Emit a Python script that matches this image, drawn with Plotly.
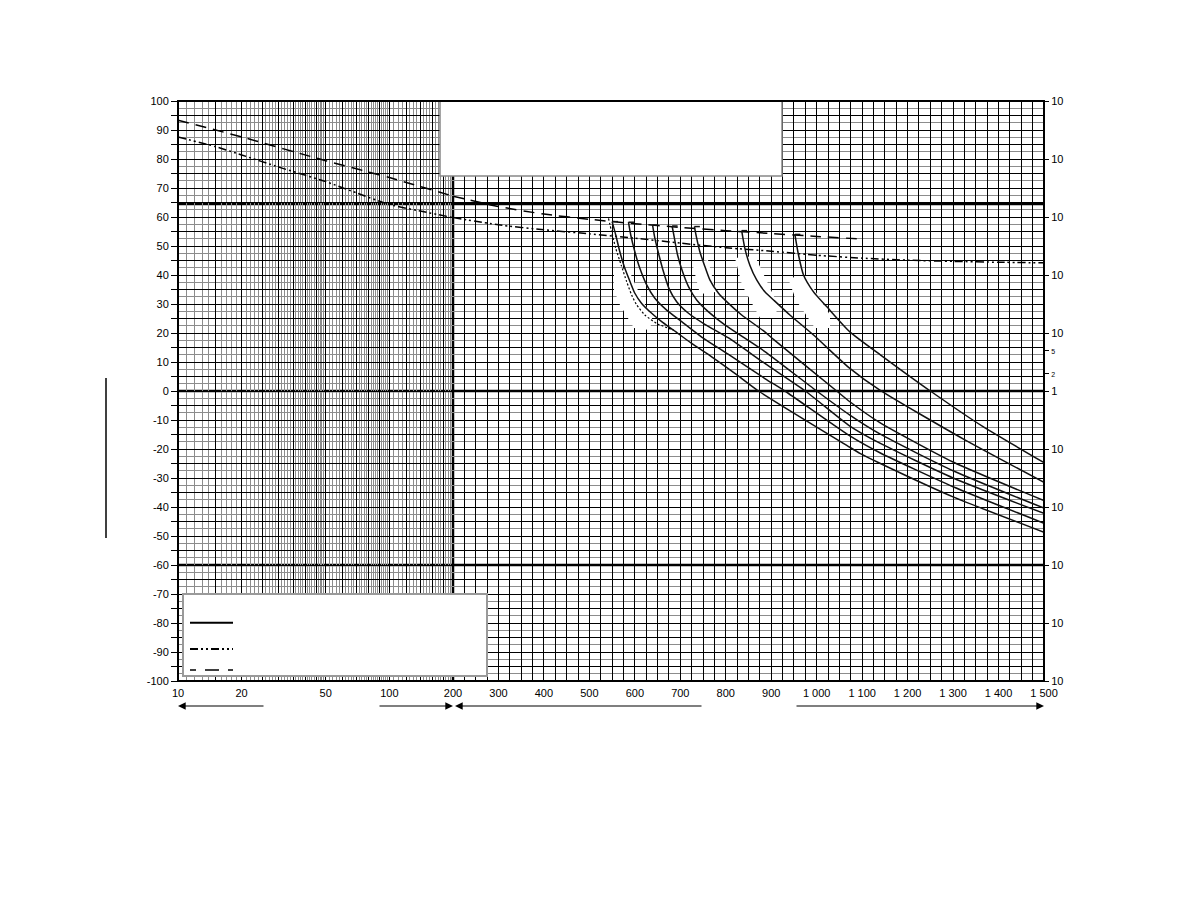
import plotly.graph_objects as go

# ---------------- data ----------------
# dashed curve (spans log part 10-200 and linear part 200-1100)
dashed_x = [10, 20, 50, 100, 200, 300, 400, 500, 600, 700, 800, 900, 1000, 1100]
dashed_y = [93.4, 87.6, 79.4, 73.6, 67.2, 63.6, 61.0, 59.2, 57.7, 56.4, 55.3, 54.3, 53.3, 52.4]

# dash-dot curve (10-1500)
dashdot_x = [10, 15, 20, 30, 50, 70, 100, 150, 200, 300, 400, 500, 600, 700, 800, 900,
             1000, 1100, 1200, 1300, 1400, 1500]
dashdot_y = [87.6, 84.3, 81.4, 77.2, 72.2, 68.3, 64.3, 61.6, 59.8, 57.3, 55.6, 54.2, 52.7, 51.0,
             49.4, 48.2, 46.8, 45.8, 45.1, 44.7, 44.4, 44.2]

# dotted curve (next to the first solid curve)
dotted_x = [542, 549, 558, 570, 582, 593, 604, 622, 648, 685]
dotted_y = [59.5, 54.9, 49.2, 43.4, 37.7, 33.1, 29.7, 26.2, 23.3, 21.0]

# solid family (first point = right end of the small top tick)
c1_x = [563, 550, 558, 567, 578, 591, 600, 615, 637, 659, 685, 725, 769, 820, 872, 1073, 1095, 1139, 1300, 1500]
c1_y = [58.4, 58.4, 53.8, 48.0, 42.3, 37.1, 33.7, 30.2, 26.8, 23.9, 21.0, 16.4, 11.8, 6.1, 0.0, -19.4, -21.5, -24.9, -36.5, -48.7]
c2_x = [598, 586, 591, 600, 611, 626, 644, 670, 703, 747, 806, 886, 930, 1073, 1139, 1300, 1500]
c2_y = [58.2, 58.2, 53.8, 48.0, 42.3, 36.6, 32.0, 27.9, 23.9, 18.6, 12.6, 4.3, 0.0, -15.5, -21.3, -33.0, -45.6]
c3_x = [651, 639, 644, 653, 663, 675, 692, 718, 754, 806, 886, 975, 1073, 1139, 1300, 1500]
c3_y = [57.2, 57.2, 52.7, 46.9, 41.1, 35.4, 30.8, 26.8, 23.0, 18.3, 9.5, 0.0, -12.1, -18.0, -30.0, -42.2]
c4_x = [694, 682, 687, 694, 705, 718, 736, 762, 798, 842, 886, 1000, 1073, 1139, 1300, 1500]
c4_y = [56.9, 56.9, 52.7, 46.9, 41.1, 36.0, 31.4, 27.3, 22.8, 18.2, 13.6, 0.0, -8.3, -14.8, -27.5, -40.4]
c5_x = [743, 731, 736, 743, 753, 765, 784, 806, 835, 886, 905, 1044, 1073, 1139, 1300, 1500]
c5_y = [56.7, 56.7, 52.7, 48.0, 43.4, 38.3, 33.7, 30.2, 26.2, 20.4, 17.8, 0.0, -3.7, -10.9, -24.5, -37.8]
c6_x = [847, 835, 842, 853, 868, 886, 905, 941, 993, 1073, 1139, 1322, 1500]
c6_y = [55.3, 55.3, 49.2, 43.4, 38.3, 34.2, 31.4, 26.2, 19.3, 7.8, 0.3, -16.5, -31.5]
c7_x = [964, 952, 960, 971, 993, 1022, 1073, 1146, 1250, 1366, 1500]
c7_y = [54.0, 54.0, 46.9, 40.0, 34.2, 29.1, 20.4, 11.8, 0.0, -12.3, -24.7]

# axis ticks / labels
log_major = [10, 15, 20, 25, 30, 35, 40, 45, 50, 60, 70, 80, 90, 100, 120, 140, 160, 180, 200]
log_labels = {10: "10", 20: "20", 50: "50", 100: "100", 200: "200"}
log_minor = ([v for v in range(11, 50) if v not in log_major]
             + [v for v in range(52, 100, 2) if v not in log_major]
             + [v for v in range(105, 200, 5) if v not in log_major])
lin_ticks = list(range(225, 1501, 25))
lin_labels = {300: "300", 400: "400", 500: "500", 600: "600", 700: "700", 800: "800", 900: "900",
              1000: "1 000", 1100: "1 100", 1200: "1 200", 1300: "1 300", 1400: "1 400", 1500: "1 500"}
y_ticks = list(range(-100, 101, 5))
right_ticks = [-100, -80, -60, -40, -20, 0, 6, 14, 20, 40, 60, 80, 100]
right_labels = ["10", "10", "10", "10", "10", "1",
                '<span style="font-size:7px">2</span>', '<span style="font-size:7px">5</span>',
                "10", "10", "10", "10", "10"]
heavy_y = [0, -60, 64.5]

# ---------------- layout geometry ----------------
# the page body adds an 8 px margin, so the figure is 16 px smaller than the window
W, H = 1172, 902
PL, PT, PW, PH = 178, 101, 866, 580          # plot area in screenshot pixels
ML, MT = PL - 8, PT - 8
MR = W - ML - PW
MB = H - MT - PH
SPLIT = 275 / PW
X2_PX_PER_UNIT = (PW - 275) / 1300.0
Y_PX_PER_UNIT = PH / 200.0


def pxx(x):
    return (x - PL) / PW


def pxy(y):
    return (PT + PH - y) / PH


def px_to_x2(x):
    return 200 + (x - PL - 275) / X2_PX_PER_UNIT


def px_to_y(y):
    return (PT + PH / 2 - y) / Y_PX_PER_UNIT


FONT = dict(family="Arial, Liberation Sans, sans-serif", size=11, color="#000")
BLACK = "#000000"
GRAY = "#8c8c8c"
DASH = "11px,7px"
DASHDOT = "8px,3px,2px,3px,2px,3px"

fig = go.Figure()


def add_split(xs, ys, dash):
    lx = [a for a in xs if a <= 200]
    ly = [b for a, b in zip(xs, ys) if a <= 200]
    rx = [a for a in xs if a >= 200]
    ry = [b for a, b in zip(xs, ys) if a >= 200]
    line = dict(color=BLACK, width=1.5, dash=dash, shape="spline", smoothing=0.5)
    fig.add_trace(go.Scatter(x=lx, y=ly, xaxis="x", yaxis="y", mode="lines", line=line,
                             showlegend=False, hoverinfo="skip"))
    fig.add_trace(go.Scatter(x=rx, y=ry, xaxis="x2", yaxis="y", mode="lines", line=line,
                             showlegend=False, hoverinfo="skip"))


add_split(dashed_x, dashed_y, DASH)
add_split(dashdot_x, dashdot_y, DASHDOT)

# the dotted curve is drawn against the right-hand axis (same range) so that it exists
fig.add_trace(go.Scatter(x=dotted_x, y=dotted_y, xaxis="x2", yaxis="y2", mode="lines",
                         line=dict(color=BLACK, width=1.2, dash="2px,2px", shape="spline", smoothing=0.6),
                         showlegend=False, hoverinfo="skip"))

for cx, cy in [(c1_x, c1_y), (c2_x, c2_y), (c3_x, c3_y), (c4_x, c4_y),
               (c5_x, c5_y), (c6_x, c6_y), (c7_x, c7_y)]:
    # small horizontal tick at the top of each curve
    fig.add_trace(go.Scatter(x=cx[:2], y=cy[:2], xaxis="x2", yaxis="y", mode="lines",
                             line=dict(color="#111", width=1.5),
                             showlegend=False, hoverinfo="skip"))
    fig.add_trace(go.Scatter(x=cx[1:], y=cy[1:], xaxis="x2", yaxis="y", mode="lines",
                             line=dict(color="#111", width=1.5, shape="spline", smoothing=0.6),
                             showlegend=False, hoverinfo="skip"))

# ---------------- decorative shapes ----------------
shapes = []
# white label erasures (between grid and curves)
blotches = [
    [(614, 270), (628, 268), (640, 295), (652, 318), (650, 330), (634, 328), (620, 305), (614, 290)],
    [(692, 262), (708, 260), (716, 292), (700, 294)],
    [(735, 258), (755, 256), (778, 305), (775, 318), (760, 318), (742, 285)],
    [(788, 278), (806, 276), (830, 315), (830, 328), (815, 328), (796, 300)],
]
for poly in blotches:
    path = "M " + " L ".join(f"{px_to_x2(a):.3f},{px_to_y(b):.3f}" for a, b in poly) + " Z"
    shapes.append(dict(type="path", path=path, xref="x2", yref="y",
                       fillcolor="white", line=dict(width=0), layer="between"))

# heavy horizontal lines
for hy in heavy_y:
    shapes.append(dict(type="line", xref="paper", yref="y", x0=0, x1=1, y0=hy, y1=hy,
                       line=dict(color=BLACK, width=2.5), layer="between"))
# heavy vertical line at 200
shapes.append(dict(type="line", xref="paper", yref="paper", x0=SPLIT, x1=SPLIT, y0=0, y1=1,
                   line=dict(color=BLACK, width=2.5), layer="between"))
# top white box
shapes.append(dict(type="rect", xref="paper", yref="paper", x0=pxx(440), x1=pxx(782),
                   y0=pxy(176), y1=1, fillcolor="white", line=dict(color="#888", width=1.5),
                   layer="above"))
# legend box
shapes.append(dict(type="rect", xref="paper", yref="paper", x0=pxx(183), x1=pxx(487),
                   y0=pxy(676), y1=pxy(594), fillcolor="white", line=dict(color="#9a9a9a", width=2),
                   layer="above"))
# legend samples
for yy, dash, wd in [(622.7, "solid", 2), (649, DASHDOT, 2), (670, "6px,9px,14px,9px", 1.5)]:
    shapes.append(dict(type="line", xref="paper", yref="paper", x0=pxx(190), x1=pxx(233),
                       y0=pxy(yy), y1=pxy(yy), line=dict(color=BLACK, width=wd, dash=dash),
                       layer="above"))
# plot border
shapes.append(dict(type="rect", xref="paper", yref="paper", x0=0, x1=1, y0=0, y1=1,
                   line=dict(color=BLACK, width=2), layer="above"))
# vertical bar left of the y axis
shapes.append(dict(type="line", xref="paper", yref="paper", x0=pxx(106), x1=pxx(106),
                   y0=pxy(538), y1=pxy(378), line=dict(color=BLACK, width=1.5)))

# arrows below the x axis
annotations = []
for head, tail in [(178, 265), (453, 378), (455, 703), (1044, 795)]:
    annotations.append(dict(x=pxx(head), y=pxy(706), xref="paper", yref="paper",
                            ax=tail - head, ay=0, text="", showarrow=True,
                            arrowhead=2, arrowsize=1.4, arrowwidth=1.1, arrowcolor=BLACK,
                            standoff=0))

fig.update_layout(
    width=W, height=H,
    margin=dict(l=ML, r=MR, t=MT, b=MB),
    paper_bgcolor="white", plot_bgcolor="white",
    font=FONT,
    showlegend=False,
    shapes=shapes,
    annotations=annotations,
    xaxis=dict(type="log", domain=[0, SPLIT], range=[1, 2.30104], anchor="y",
               tickmode="array", tickvals=log_major,
               ticktext=[log_labels.get(v, "") for v in log_major],
               showgrid=True, gridcolor=BLACK, gridwidth=1, zeroline=False,
               ticks="", showline=False, tickfont=FONT, ticklabelstandoff=4,
               minor=dict(tickmode="array", tickvals=log_minor, showgrid=True,
                          gridcolor=GRAY, gridwidth=1, ticks="")),
    xaxis2=dict(type="linear", domain=[SPLIT, 1], range=[200, 1500], anchor="y",
                tickmode="array", tickvals=lin_ticks,
                ticktext=[lin_labels.get(v, "") for v in lin_ticks],
                showgrid=True, gridcolor=BLACK, gridwidth=1, zeroline=False,
                ticks="", showline=False, tickfont=FONT, ticklabelstandoff=4),
    yaxis=dict(range=[-100, 100], anchor="x", tickmode="array", tickvals=y_ticks,
               ticktext=[str(v) if v % 10 == 0 else "" for v in y_ticks],
               showgrid=True, gridcolor=BLACK, gridwidth=1, zeroline=False,
               ticks="outside", ticklen=6, tickcolor=BLACK, tickwidth=1,
               showline=False, tickfont=FONT,
               minor=dict(tickmode="linear", tick0=2.5, dtick=5, showgrid=True,
                          gridcolor=GRAY, gridwidth=1, ticks="")),
    yaxis2=dict(range=[-100, 100], overlaying="y", side="right", anchor="x2",
                tickmode="array", tickvals=right_ticks, ticktext=right_labels,
                showgrid=False, zeroline=False, ticks="outside", ticklen=4,
                tickcolor=BLACK, tickwidth=1, showline=False, tickfont=FONT),
)

fig.write_html("out.html")
